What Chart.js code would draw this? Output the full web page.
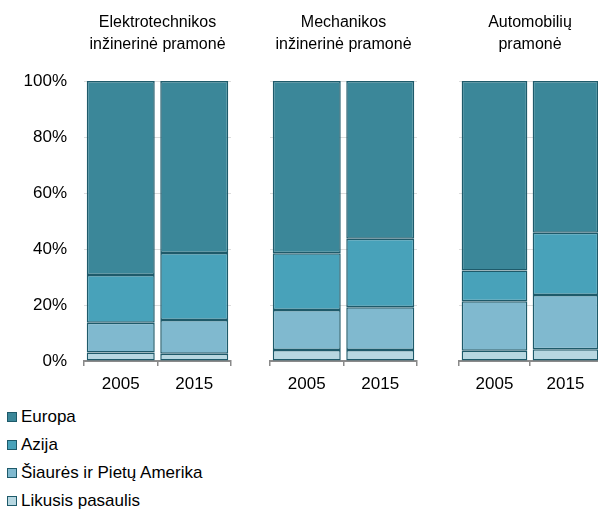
<!DOCTYPE html>
<html>
<head>
<meta charset="utf-8">
<script src="https://cdn.jsdelivr.net/npm/chart.js@4.4.1/dist/chart.umd.min.js"></script>
<style>
  body { margin: 0; width: 598px; height: 512px; overflow: hidden; background: #fff; position: relative; font-family: "Liberation Sans", Arial, sans-serif; }
  canvas { position: absolute; top: 0; }
  #legenda { position: absolute; left: 7px; top: 403px; }
  .item { height: 28px; display: flex; align-items: center; font-size: 17px; color: #000; }
  .cuadro { width: 8px; height: 8px; border: 1.5px solid #1E5A6A; margin-right: 4px; }
</style>
</head>
<body>
<canvas id="g1" width="240" height="395" style="left:0px"></canvas>
<canvas id="g2" width="163" height="395" style="left:262px"></canvas>
<canvas id="g3" width="158" height="395" style="left:451px"></canvas>
<div id="legenda"></div>

<script>
// Datos (porcentajes)
const anios = ['2005', '2015'];
const grupos = [
    ['Elektrotechnikos', 'inžinerinė pramonė'],
    ['Mechanikos', 'inžinerinė pramonė'],
    ['Automobilių', 'pramonė']
];
const regiones = ['Likusis pasaulis', 'Šiaurės ir Pietų Amerika', 'Azija', 'Europa'];
const colores = ['#B7D7E1', '#80B9CF', '#48A2BA', '#3B8799'];

// valores por grupo: [2005, 2015]
const likusis = [[3.0, 2.6], [3.9, 3.9], [3.7, 4.2]];
const amerika = [[10.7, 12.0], [14.3, 15.3], [17.6, 19.4]];
const azija = [[17.0, 24.0], [20.3, 24.5], [11.0, 22.2]];
const europa = [[69.3, 61.4], [61.5, 56.3], [67.7, 54.2]];

const yTicks = [0, 20, 40, 60, 80, 100];

const fuente = { family: "'Liberation Sans', Arial, sans-serif", size: 17 };

function dibujarGrupo(id, idx, conEje, padIzq, padDer) {
    const series = [likusis, amerika, azija, europa];
    return new Chart(document.getElementById(id), {
        type: 'bar',
        data: {
            labels: anios,
            datasets: regiones.map((r, i) => ({
                label: r,
                data: series[i][idx],
                backgroundColor: colores[i],
                borderColor: '#1E5A6A',
                borderWidth: 1.5,
                borderSkipped: false,
                barPercentage: 0.925,
                categoryPercentage: 1
            }))
        },
        options: {
            responsive: false,
            animation: false,
            layout: { padding: { left: padIzq, right: padDer, top: 0, bottom: 0 } },
            plugins: {
                legend: { display: false },
                tooltip: { enabled: false },
                title: {
                    display: true,
                    text: grupos[idx],
                    fullSize: false,
                    color: '#000',
                    font: { family: fuente.family, size: 16, weight: 'normal', lineHeight: 1.375 },
                    padding: { top: 12, bottom: 25 }
                }
            },
            scales: {
                x: {
                    stacked: true,
                    grid: { offset: true, drawOnChartArea: false, drawTicks: true, tickLength: 5, color: '#8A8A8A', lineWidth: 1.5 },
                    border: { display: true, color: '#8A8A8A', width: 2 },
                    ticks: { color: '#000', font: fuente, padding: 8 },
                    afterFit: s => { s.height = 34; }
                },
                y: {
                    stacked: true,
                    min: 0,
                    max: 100,
                    afterBuildTicks: s => { s.ticks = yTicks.map(v => ({ value: v })); },
                    grid: { color: '#DCDCDC', lineWidth: 1, drawTicks: false },
                    border: { display: false },
                    ticks: {
                        display: conEje,
                        color: '#000',
                        font: fuente,
                        padding: 17,
                        callback: v => v + '%'
                    },
                    afterFit: s => { s.width = conEje ? 84 : 0; }
                }
            }
        }
    });
}

dibujarGrupo('g1', 0, true, 0, 9);
dibujarGrupo('g2', 1, false, 8, 8);
dibujarGrupo('g3', 2, false, 8, 8);

// Leyenda (Europa arriba, como en el original)
const legenda = document.getElementById('legenda');
for (let i = regiones.length - 1; i >= 0; i--) {
    const div = document.createElement('div');
    div.className = 'item';
    const c = document.createElement('span');
    c.className = 'cuadro';
    c.style.background = colores[i];
    div.appendChild(c);
    div.appendChild(document.createTextNode(regiones[i]));
    legenda.appendChild(div);
}
</script>
</body>
</html>
